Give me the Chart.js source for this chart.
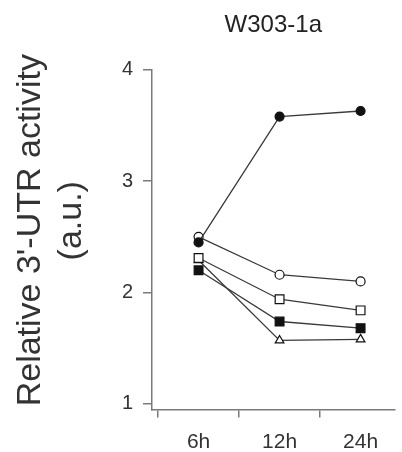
<!DOCTYPE html>
<html>
<head>
<meta charset="utf-8">
<script src="https://cdn.jsdelivr.net/npm/chart.js@4"></script>
<style>
  html, body { margin: 0; padding: 0; background: #fff; }
  #wrap { width: 402px; height: 452px; }
</style>
</head>
<body>
<div id="wrap"><canvas id="chart"></canvas></div>
<script>
const timeLabels = ["6h", "12h", "24h"];
const yTicks = [1, 2, 3, 4];

// one series per marker style
const filledCircle = [2.45, 3.58, 3.63];
const openCircle = [2.50, 2.16, 2.10];
const openSquare = [2.31, 1.94, 1.84];
const openTriangle = [2.29, 1.57, 1.58];
const filledSquare = [2.20, 1.74, 1.68];

const FONT = "'Liberation Sans', Arial, sans-serif";
const axisColor = "#7a7a7a";

function toPoints(values) {
  return values.map((v, i) => ({ x: i, y: v }));
}

function series(values, style, fill, radius) {
  return {
    data: toPoints(values),
    borderColor: "#3a3a3a",
    borderWidth: 1.3,
    tension: 0,
    pointStyle: style,
    pointRadius: radius,
    pointHoverRadius: radius,
    pointBackgroundColor: fill,
    pointBorderColor: "#111",
    pointBorderWidth: 1.2
  };
}

new Chart(document.getElementById("chart"), {
  type: "line",
  data: {
    datasets: [
      series(filledCircle, "circle", "#111", 4.5),
      series(openCircle, "circle", "#fff", 4.5),
      series(openSquare, "rect", "#fff", 6.2),
      series(openTriangle, "triangle", "#fff", 5),
      series(filledSquare, "rect", "#111", 6.2)
    ]
  },
  options: {
    responsive: true,
    maintainAspectRatio: false,
    animation: false,
    layout: { padding: 0 },
    plugins: {
      legend: { display: false },
      tooltip: { enabled: false },
      title: {
        display: true,
        text: "W303-1a",
        fullSize: false,
        color: "#222",
        font: { family: FONT, size: 24, weight: "normal" },
        padding: { top: 11, bottom: 30 }
      }
    },
    scales: {
      x: {
        type: "linear",
        min: -0.575,
        max: 2.42,
        afterBuildTicks: s => { s.ticks = timeLabels.map((_, i) => ({ value: i })); },
        afterFit: s => { s.height = 42.5; },
        ticks: {
          autoSkip: false,
          maxRotation: 0,
          padding: 12,
          color: "#333",
          font: { family: FONT, size: 21 },
          callback: v => timeLabels[v]
        },
        grid: {
          offset: true,
          drawOnChartArea: false,
          tickLength: 8,
          color: axisColor,
          lineWidth: 1.5
        },
        border: { color: axisColor, width: 1.5 }
      },
      y: {
        min: 0.95,
        max: 4,
        afterBuildTicks: s => { s.ticks = yTicks.map(v => ({ value: v })); },
        afterFit: s => { s.width = 152; },
        ticks: {
          padding: 10,
          color: "#333",
          font: { family: FONT, size: 20 }
        },
        grid: {
          drawOnChartArea: false,
          tickLength: 9,
          color: axisColor,
          lineWidth: 1.5
        },
        border: { color: axisColor, width: 1.5 },
        title: {
          display: true,
          text: ["\u00a0\u00a0Relative 3'-UTR activity", "\u00a0\u00a0\u00a0\u00a0(a.u.)"],
          color: "#333",
          font: { family: FONT, size: 34, lineHeight: 1.2 },
          padding: { top: 10, bottom: 0 }
        }
      }
    }
  }
});
</script>
</body>
</html>
